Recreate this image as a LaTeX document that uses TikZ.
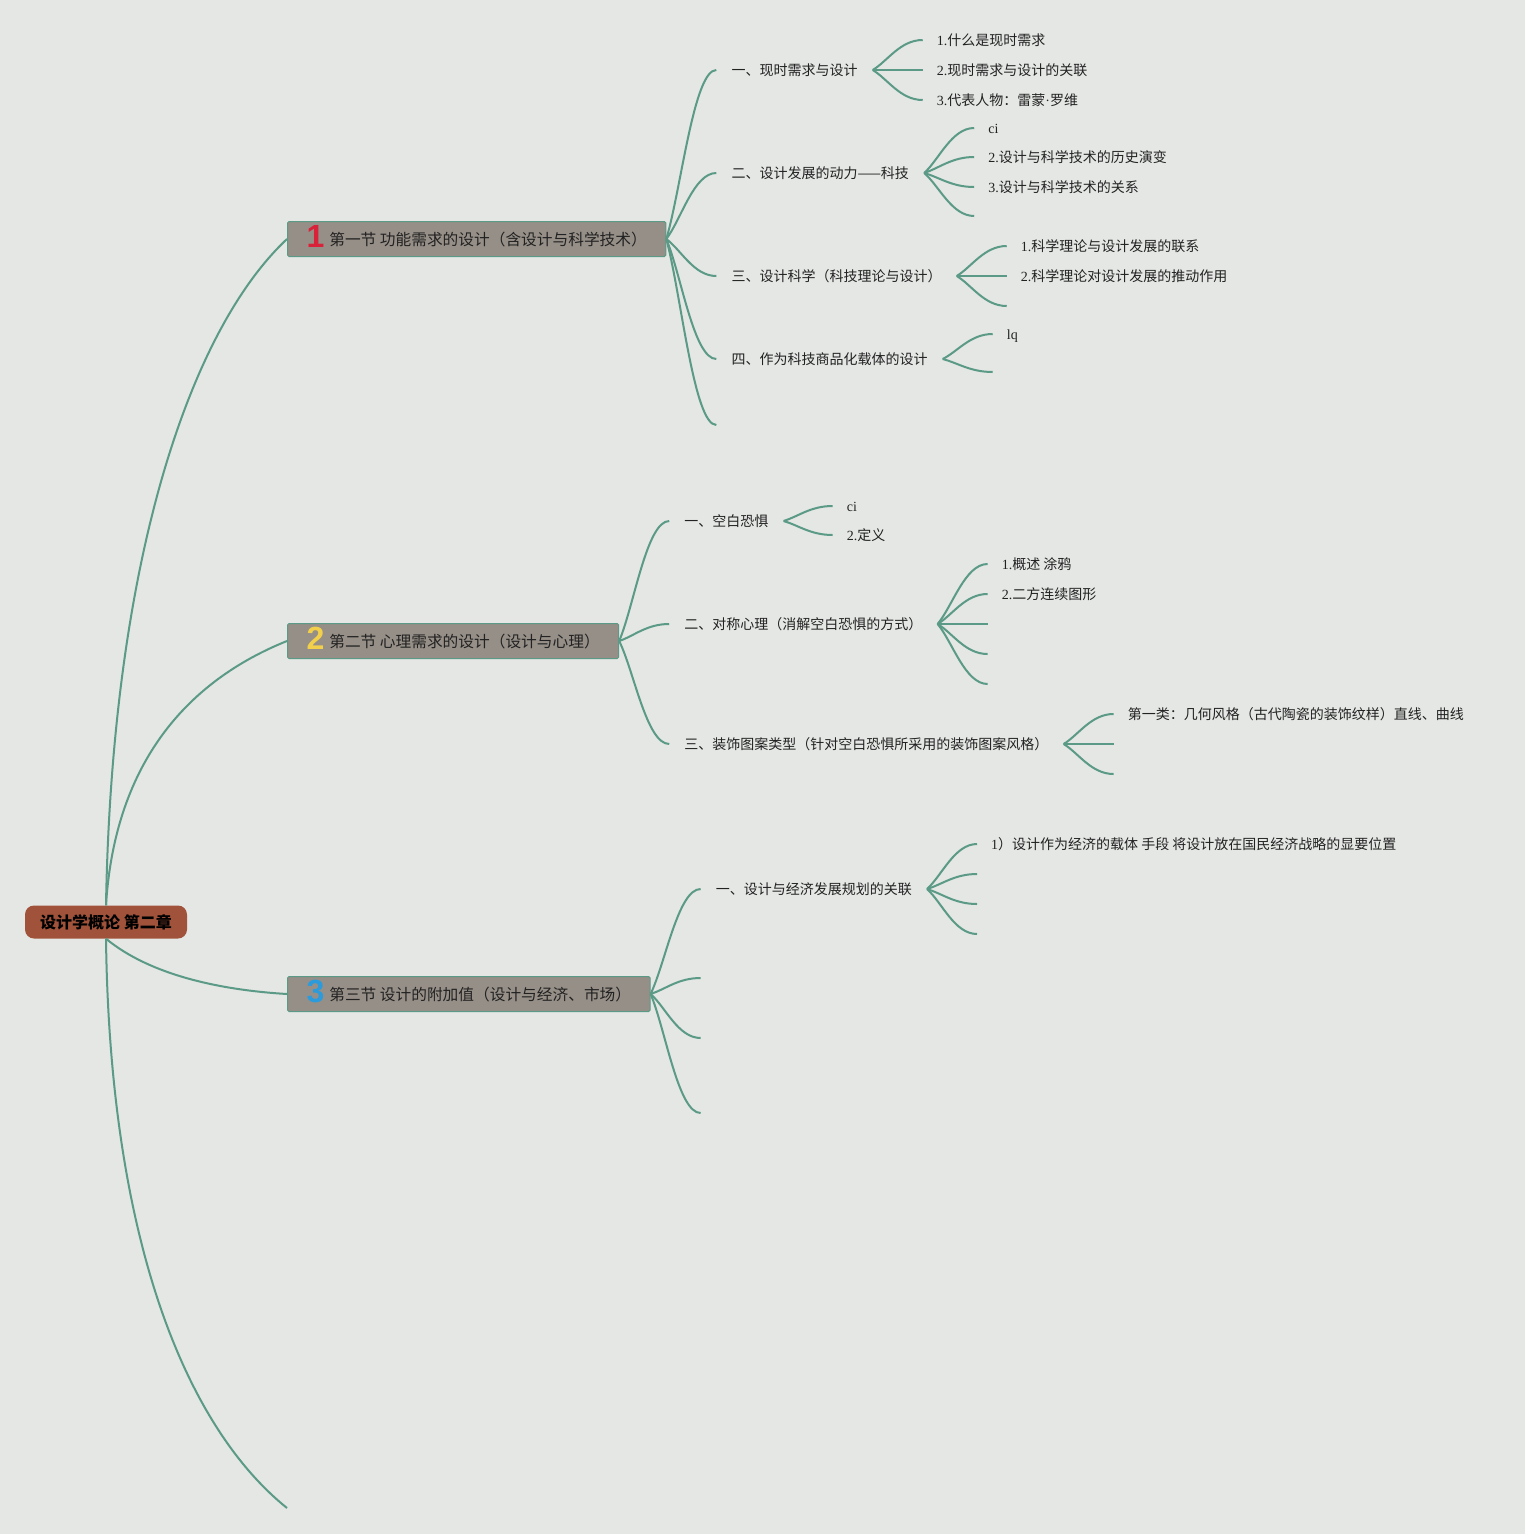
\documentclass[tikz,border=0pt]{standalone}
\usepackage{fontspec}
\setmainfont{Liberation Serif}
\newfontfamily\cjk{Noto Sans CJK SC}
\newfontfamily\numfont{Liberation Sans}
\usetikzlibrary{calc,positioning}
\definecolor{paper}{HTML}{E4E7E4}
\definecolor{vine}{HTML}{5B9A86}
\definecolor{rust}{HTML}{A0533A}
\definecolor{slab}{HTML}{968F87}
\definecolor{ink}{HTML}{222222}
\definecolor{numred}{HTML}{D9213A}
\definecolor{numyellow}{HTML}{F2D04B}
\definecolor{numblue}{HTML}{2C9BDB}
\newcommand{\secno}[2]{\raisebox{-2.5pt}{\numfont\bfseries\fontsize{32}{32}\selectfont\color{#1}#2}\hspace{5pt}}
\newcommand{\lat}[1]{{\rmfamily #1}}
\tikzstyle{chapterbox} = [rectangle, fill=rust, rounded corners=9pt, minimum width=162pt,
    minimum height=33pt, text height=12pt, text depth=0pt, font=\cjk\bfseries\fontsize{16}{19}\selectfont, text=black]
\tikzstyle{sectionbox} = [rectangle, draw=vine, line width=1pt, fill=slab, rounded corners=1.5pt,
    anchor=west, minimum height=35pt, inner xsep=19pt, text height=12pt, text depth=0pt,
    font=\cjk\fontsize{15.7}{19}\selectfont, text=ink]
\tikzstyle{topic} = [anchor=west, inner xsep=15pt, inner ysep=2pt, text height=10.6pt, text depth=0pt,
    font=\cjk\fontsize{14}{17}\selectfont, text=ink]
\tikzstyle{leaf} = [topic, inner xsep=14pt]
\tikzstyle{line} = [draw=vine, line width=2pt]
\tikzstyle{branch} = [line, to path={.. controls ($(\tikztostart)!0.3!(\tikztotarget)$)
    and ($(\tikztostart |- \tikztotarget)!0.55!(\tikztotarget)$) .. (\tikztotarget)}]

\begin{document}
\begin{tikzpicture}[x=1pt,y=-1pt]
    \fill[paper] (0,0) rectangle (1525,1534);
    \useasboundingbox (0,0) rectangle (1525,1534);
    \node [chapterbox] (chapter) at (106,922) {设计学概论 第二章};
    \node [sectionbox] (func) at (287,239) {\secno{numred}{1}第一节 功能需求的设计（含设计与科学技术）};
    \node [sectionbox] (psych) at (287,641) {\secno{numyellow}{2}第二节 心理需求的设计（设计与心理）};
    \node [sectionbox] (econ) at (287,994) {\secno{numblue}{3}第三节 设计的附加值（设计与经济、市场）};
    \coordinate (chapterE) at (287,1508);
    % section 1
    \node [topic] (need) at ($(func.east)+(50,-169)$) {一、现时需求与设计};
    \node [topic] (drive) at ($(func.east)+(50,-66)$) {二、设计发展的动力——科技};
    \node [topic] (sci) at ($(func.east)+(50,37)$) {三、设计科学（科技理论与设计）};
    \node [topic] (carrier) at ($(func.east)+(50,120)$) {四、作为科技商品化载体的设计};
    \coordinate (funcE) at ($(func.east)+(50,186)$);
    \node [leaf] (needA) at ($(need.east)+(50,-30)$) {\lat{1.}什么是现时需求};
    \node [leaf] (needB) at ($(need.east)+(50,0)$) {\lat{2.}现时需求与设计的关联};
    \node [leaf] (needC) at ($(need.east)+(50,30)$) {\lat{3.}代表人物：雷蒙\lat{·}罗维};
    \node [leaf] (driveA) at ($(drive.east)+(50,-45)$) {\lat{ci}};
    \node [leaf] (driveB) at ($(drive.east)+(50,-16)$) {\lat{2.}设计与科学技术的历史演变};
    \node [leaf] (driveC) at ($(drive.east)+(50,14)$) {\lat{3.}设计与科学技术的关系};
    \coordinate (driveE) at ($(drive.east)+(50,43)$);
    \node [leaf] (sciA) at ($(sci.east)+(50,-30)$) {\lat{1.}科学理论与设计发展的联系};
    \node [leaf] (sciB) at ($(sci.east)+(50,0)$) {\lat{2.}科学理论对设计发展的推动作用};
    \coordinate (sciE) at ($(sci.east)+(50,30)$);
    \node [leaf] (carrierA) at ($(carrier.east)+(50,-25)$) {\lat{lq}};
    \coordinate (carrierE) at ($(carrier.east)+(50,13)$);
    % section 2
    \node [topic] (fear) at ($(psych.east)+(50,-120)$) {一、空白恐惧};
    \node [topic] (sym) at ($(psych.east)+(50,-17)$) {二、对称心理（消解空白恐惧的方式）};
    \node [topic] (deco) at ($(psych.east)+(50,103)$) {三、装饰图案类型（针对空白恐惧所采用的装饰图案风格）};
    \node [leaf] (fearA) at ($(fear.east)+(49,-15)$) {\lat{ci}};
    \node [leaf] (fearB) at ($(fear.east)+(49,14)$) {\lat{2.}定义};
    \node [leaf] (symA) at ($(sym.east)+(50,-60)$) {\lat{1.}概述 涂鸦};
    \node [leaf] (symB) at ($(sym.east)+(50,-30)$) {\lat{2.}二方连续图形};
    \coordinate (symC) at ($(sym.east)+(50,0)$);
    \coordinate (symD) at ($(sym.east)+(50,30)$);
    \coordinate (symE) at ($(sym.east)+(50,60)$);
    \node [leaf] (decoA) at ($(deco.east)+(50,-30)$) {第一类：几何风格（古代陶瓷的装饰纹样）直线、曲线};
    \coordinate (decoB) at ($(deco.east)+(50,0)$);
    \coordinate (decoC) at ($(deco.east)+(50,30)$);
    % section 3
    \node [topic] (plan) at ($(econ.east)+(50,-105)$) {一、设计与经济发展规划的关联};
    \coordinate (econB) at ($(econ.east)+(50,-16)$);
    \coordinate (econC) at ($(econ.east)+(50,44)$);
    \coordinate (econD) at ($(econ.east)+(50,119)$);
    \node [leaf] (planA) at ($(plan.east)+(50,-45)$) {\lat{1}）设计作为经济的载体 手段 将设计放在国民经济战略的显要位置};
    \coordinate (planB) at ($(plan.east)+(50,-15)$);
    \coordinate (planC) at ($(plan.east)+(50,15)$);
    \coordinate (planD) at ($(plan.east)+(50,45)$);
    % Draw edges
    \path[line] (chapter.north) .. controls (112,560) and (190,330) .. (func.west);
    \path[line] (chapter.north) .. controls (115,760) and (190,680) .. (psych.west);
    \path[line] (chapter.south) .. controls (150,975) and (220,990) .. (econ.west);
    \path[line] (chapter.south) .. controls (110,1250) and (190,1430) .. (chapterE);
    \path[branch] (func.east) edge (need.west) edge (drive.west) edge (sci.west) edge (carrier.west) edge (funcE);
    \path[branch] (need.east) edge (needA.west) edge (needB.west) edge (needC.west);
    \path[branch] (drive.east) edge (driveA.west) edge (driveB.west) edge (driveC.west) edge (driveE);
    \path[branch] (sci.east) edge (sciA.west) edge (sciB.west) edge (sciE);
    \path[branch] (carrier.east) edge (carrierA.west) edge (carrierE);
    \path[branch] (psych.east) edge (fear.west) edge (sym.west) edge (deco.west);
    \path[branch] (fear.east) edge (fearA.west) edge (fearB.west);
    \path[branch] (sym.east) edge (symA.west) edge (symB.west) edge (symC) edge (symD) edge (symE);
    \path[branch] (deco.east) edge (decoA.west) edge (decoB) edge (decoC);
    \path[branch] (econ.east) edge (plan.west) edge (econB) edge (econC) edge (econD);
    \path[branch] (plan.east) edge (planA.west) edge (planB) edge (planC) edge (planD);
\end{tikzpicture}
\end{document}
